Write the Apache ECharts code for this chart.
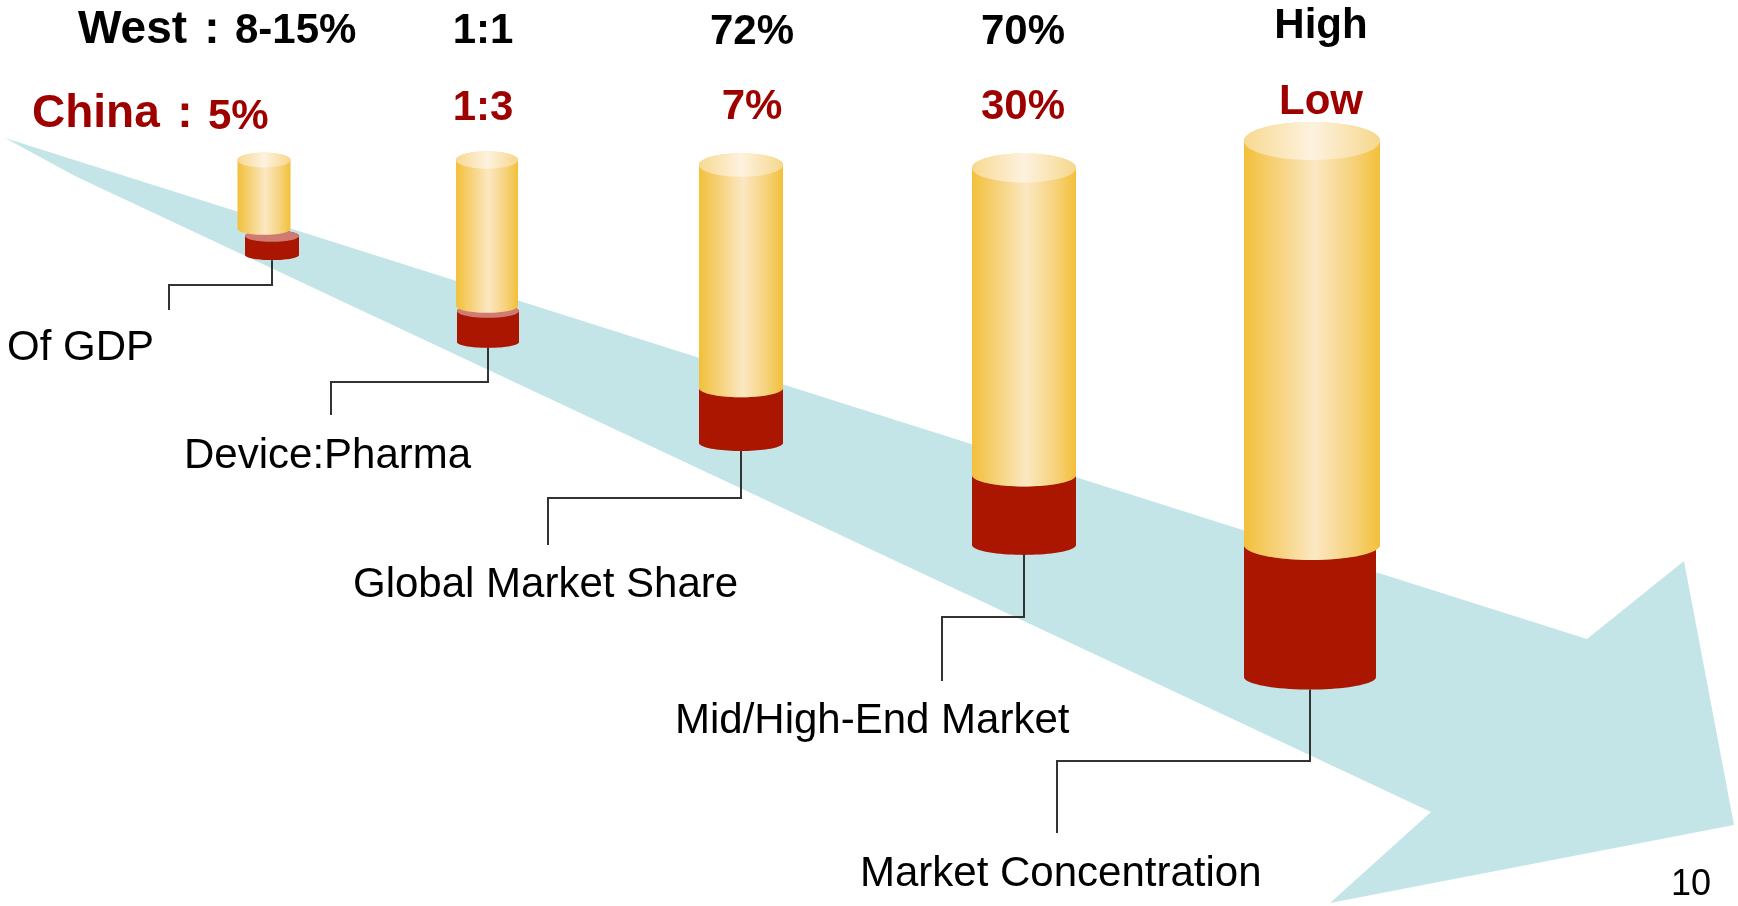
<!DOCTYPE html>
<html>
<head>
<meta charset="utf-8">
<script src="https://cdn.jsdelivr.net/npm/echarts@6/dist/echarts.min.js"></script>
<style>
html,body{margin:0;padding:0;background:#ffffff;}
#chart{width:1738px;height:906px;}
</style>
</head>
<body>
<div id="chart"></div>
<script>
// ---------- data ----------
const stages = ['Of GDP', 'Device:Pharma', 'Global Market Share', 'Mid/High-End Market', 'Market Concentration'];
const westValues = ['8-15%', '1:1', '72%', '70%', 'High'];
const chinaValues = ['5%', '1:3', '7%', '30%', 'Low'];
const rowNames = ['West', 'China'];
const pageNumber = '10';

// cylinder readings (slide units along the hidden axes)
const cylCenter = [264, 487, 741, 1024, 1312];
const cylDiameter = [53, 62, 84, 104, 136];
const goldTop = [160, 160, 165, 168, 141];
const goldBottom = [229, 306, 388, 475, 545];
const redTop = [236, 311, 388, 475, 545];
const redBottom = [255, 342, 443, 545, 677];
const redShift = [8, 1, 0, 0, -2];
const redDiameter = [54, 62, 84, 104, 132];

// call-out lines and labels
const elbowLevel = [285, 382, 498, 617, 761];
const calloutX = [169, 331, 548, 942, 1057];
const calloutEnd = [310, 415, 545, 681, 833];
const labelLeft = [7, 184, 353, 675, 860];
const labelLevel = [348, 456, 585, 721, 874];

// header values
const headerX = [0, 483, 752, 1023, 1321];
const westLevel = [31, 31, 32, 32, 26];
const chinaLevel = [117, 108, 107.5, 107.5, 102];

// trend arrow outline
const arrowX = [5, 1587, 1684, 1734, 1330, 1431, 77, 40];
const arrowY = [138, 639, 561, 825, 903, 812, 177, 157];

// ---------- drawing ----------
const FONT = "'Liberation Sans', Arial, Helvetica, sans-serif";
const BLACK = '#000000';
const DARKRED = '#9E0000';

const chart = echarts.init(document.getElementById('chart'), null, {renderer: 'canvas'});

function arcPts(cx, cy, rx, ry, a0, a1, n) {
  const pts = [];
  for (let k = 0; k <= n; k++) {
    const a = a0 + (a1 - a0) * k / n;
    pts.push([cx + rx * Math.cos(a), cy + ry * Math.sin(a)]);
  }
  return pts;
}

function cylinderBody(cx, w, topY, botY, ryT, ryB) {
  const L = cx - w / 2, R = cx + w / 2;
  let pts = [[L, topY]];
  pts = pts.concat(arcPts(cx, botY, w / 2, ryB, Math.PI, 0, 40));
  pts.push([R, topY]);
  pts = pts.concat(arcPts(cx, topY, w / 2, ryT, 0, -Math.PI, 40));
  return pts;
}

const goldBody = new echarts.graphic.LinearGradient(0, 0, 1, 0, [
  {offset: 0, color: '#F3C03A'},
  {offset: 0.25, color: '#F6D27C'},
  {offset: 0.52, color: '#FBE8C2'},
  {offset: 0.8, color: '#F6D27C'},
  {offset: 1, color: '#F3C03A'}
]);
const goldFace = new echarts.graphic.LinearGradient(0, 0, 1, 0, [
  {offset: 0, color: '#F7D990'},
  {offset: 0.5, color: '#FDF2DF'},
  {offset: 1, color: '#F6D78C'}
]);

function renderArrow(params, api) {
  const pts = arrowX.map((x, i) => api.coord([x, arrowY[i]]));
  const pn = api.coord([1691, 885]);
  return {
    type: 'group',
    children: [
      {type: 'polygon', shape: {points: pts}, style: {fill: '#C4E5E8'}},
      {type: 'text', x: pn[0], y: pn[1], style: {text: pageNumber, fill: BLACK, fontSize: 36, fontFamily: FONT, align: 'center', verticalAlign: 'middle'}}
    ]
  };
}

function txt(p, text, color, size, bold, align) {
  return {type: 'text', x: p[0], y: p[1], style: {text: text, fill: color, fontSize: size, fontWeight: bold ? 'bold' : 'normal', fontFamily: FONT, align: align, verticalAlign: 'middle'}};
}

function renderStage(params, api) {
  const i = params.dataIndex;
  const cxPx = api.coord([cylCenter[i], 0])[0];
  const wPx = api.size([cylDiameter[i], 0])[0];
  const rcxPx = api.coord([cylCenter[i] + redShift[i], 0])[0];
  const rwPx = api.size([redDiameter[i], 0])[0];
  const yPx = v => api.coord([0, v])[1];
  const ryTop = wPx * 0.14, rySplit = wPx * 0.11, ryBase = rwPx * 0.095;

  const children = [];
  // red (China) part
  children.push({type: 'polygon', shape: {points: cylinderBody(rcxPx, rwPx, yPx(redTop[i]), yPx(redBottom[i]), rySplit, ryBase)},
    style: {fill: '#AA1600'}});
  children.push({type: 'polygon', shape: {points: arcPts(rcxPx, yPx(redTop[i]), rwPx / 2, rySplit, 0, 2 * Math.PI, 60)},
    style: {fill: '#CF7A72'}});
  // gold (West) part
  children.push({type: 'polygon', shape: {points: cylinderBody(cxPx, wPx, yPx(goldTop[i]), yPx(goldBottom[i]), ryTop, rySplit)},
    style: {fill: goldBody}});
  children.push({type: 'polygon', shape: {points: arcPts(cxPx, yPx(goldTop[i]), wPx / 2, ryTop, 0, 2 * Math.PI, 60)},
    style: {fill: goldFace}});

  // call-out line
  const start = api.coord([cylCenter[i] + redShift[i], redBottom[i]]);
  const pts = [
    [start[0], start[1] + ryBase],
    api.coord([cylCenter[i] + redShift[i], elbowLevel[i]]),
    api.coord([calloutX[i], elbowLevel[i]]),
    api.coord([calloutX[i], calloutEnd[i]])
  ];
  children.push({type: 'polyline', shape: {points: pts}, style: {stroke: '#333333', lineWidth: 2, fill: null}});

  // stage label
  children.push(txt(api.coord([labelLeft[i], labelLevel[i]]), stages[i], BLACK, 42, false, 'left'));

  // header values
  if (i === 0) {
    children.push(txt(api.coord([78, 30]), rowNames[0], BLACK, 46, true, 'left'));
    children.push(txt(api.coord([212, 30]), ':', BLACK, 46, true, 'center'));
    children.push(txt(api.coord([235, westLevel[0]]), westValues[0], BLACK, 42, true, 'left'));
    children.push(txt(api.coord([32, 114.5]), rowNames[1], DARKRED, 46, true, 'left'));
    children.push(txt(api.coord([185, 114.5]), ':', DARKRED, 46, true, 'center'));
    children.push(txt(api.coord([208, chinaLevel[0]]), chinaValues[0], DARKRED, 42, true, 'left'));
  } else {
    children.push(txt(api.coord([headerX[i], westLevel[i]]), westValues[i], BLACK, 42, true, 'center'));
    children.push(txt(api.coord([headerX[i], chinaLevel[i]]), chinaValues[i], DARKRED, 42, true, 'center'));
  }
  return {type: 'group', children: children};
}

chart.setOption({
  animation: false,
  backgroundColor: '#ffffff',
  grid: {left: 0, right: 0, top: 0, bottom: 0, containLabel: false},
  xAxis: {type: 'value', min: 0, max: 1738, show: false},
  yAxis: {type: 'value', min: 0, max: 906, inverse: true, show: false},
  tooltip: {show: false},
  series: [
    {type: 'custom', name: 'trend', renderItem: renderArrow, data: [[0, 0]], z: 1, silent: true},
    {type: 'custom', name: 'stages', renderItem: renderStage,
     data: stages.map((s, i) => [cylCenter[i], redBottom[i]]), z: 2, silent: true}
  ]
});
</script>
</body>
</html>
